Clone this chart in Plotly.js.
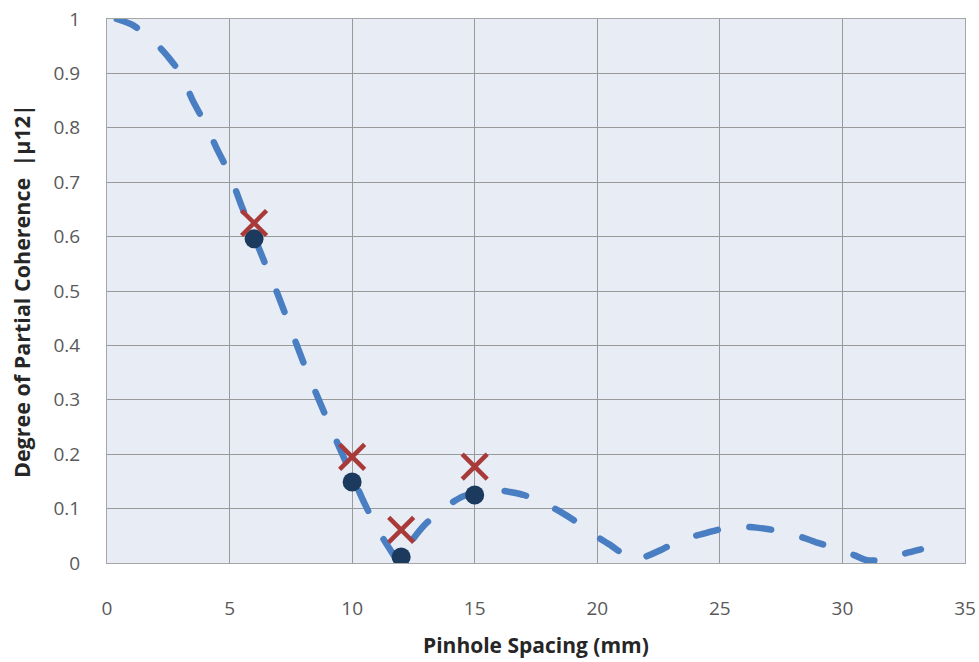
<!DOCTYPE html>
<html>
<head>
<meta charset="utf-8">
<script src="https://cdn.plot.ly/plotly-3.0.1.min.js"></script>
<style>
html,body{margin:0;padding:0;background:#fff;}
#chart{width:979px;height:662px;}
.scatterlayer path.js-line{stroke-linecap:round;}
</style>
</head>
<body>
<div id="chart"></div>
<script>
// Theoretical curve
const curveX = [0.4,1,1.5,2,2.5,3,3.5,4,4.5,5,5.5,6,6.5,7,7.5,8,8.5,9,9.5,10,10.5,11,11.5,11.9,12.5,13,13.5,14,14.5,15,15.5,16,16.5,17,17.5,18,18.5,19,19.5,20,20.5,21,21.5,22,22.5,23,23.5,24,24.5,25,25.5,26,26.5,27,27.5,28,28.5,29,29.5,30,30.5,31,31.5,32,32.5,33.2];
const curveY = [1.0,0.99,0.975,0.955,0.93,0.9,0.85,0.808,0.76,0.715,0.655,0.6,0.545,0.49,0.43,0.37,0.315,0.262,0.21,0.16,0.11,0.065,0.028,0.004,0.045,0.072,0.092,0.109,0.122,0.13,0.135,0.134,0.13,0.125,0.117,0.106,0.094,0.08,0.064,0.048,0.034,0.018,0.004,0.012,0.022,0.033,0.042,0.05,0.056,0.062,0.066,0.067,0.065,0.062,0.058,0.052,0.045,0.037,0.03,0.022,0.014,0.005,0.005,0.01,0.017,0.025];
// Measured points
const measX = [6,10,12,15];
const circleY = [0.596,0.149,0.011,0.125];
const crossY = [0.625,0.195,0.061,0.177];
const xTicks = [0,5,10,15,20,25,30,35];
const yTicks = [0,0.1,0.2,0.3,0.4,0.5,0.6,0.7,0.8,0.9,1];

const traces = [
  {x: curveX, y: curveY, mode:'lines', type:'scatter',
   line:{color:'#4A7EC2', width:6.5, dash:'22px,32px', shape:'spline', smoothing:0.6},
   hoverinfo:'skip', showlegend:false},
  {x: measX, y: circleY, mode:'markers', type:'scatter',
   marker:{symbol:'circle', size:19, color:'#1B3A5E'}, showlegend:false},
  {x: measX, y: crossY, mode:'markers', type:'scatter',
   marker:{symbol:'x-thin-open', size:25, color:'#A83A3A', line:{color:'#A83A3A', width:4.5}}, showlegend:false}
];

const font = '"Open Sans", Lato, "DejaVu Sans", sans-serif';
const layout = {
  width:979, height:662,
  margin:{l:107, r:14, t:19, b:99},
  paper_bgcolor:'#ffffff', plot_bgcolor:'#E8ECF4',
  showlegend:false,
  xaxis:{range:[0,35], tickvals:xTicks, ticktext:xTicks.map(String),
    showgrid:true, gridcolor:'#999999', gridwidth:1, zeroline:false,
    showline:true, linecolor:'#A6A6A6', linewidth:1, mirror:true,
    ticks:'', ticklabelstandoff:28,
    tickfont:{family:font, size:19, color:'#595959'}},
  yaxis:{range:[0,1], tickvals:yTicks, ticktext:yTicks.map(String),
    showgrid:true, gridcolor:'#999999', gridwidth:1, zeroline:false,
    showline:true, linecolor:'#A6A6A6', linewidth:1, mirror:true,
    ticks:'', ticklabelstandoff:22,
    tickfont:{family:font, size:19, color:'#595959'}},
  annotations:[
    {text:'<b>Pinhole Spacing (mm)</b>', xref:'paper', yref:'paper', x:0.5, y:0, yshift:-82,
     showarrow:false, xanchor:'center', yanchor:'middle', font:{family:font, size:21, color:'#262626'}},
    {text:'<b>Degree of Partial Coherence  |µ12|</b>', xref:'paper', yref:'paper', x:0, xshift:-86, y:0.5,
     textangle:-90, showarrow:false, xanchor:'center', yanchor:'middle', font:{family:font, size:21.5, color:'#262626'}}
  ]
};
Plotly.newPlot('chart', traces, layout, {displayModeBar:false, staticPlot:true});
</script>
</body>
</html>
